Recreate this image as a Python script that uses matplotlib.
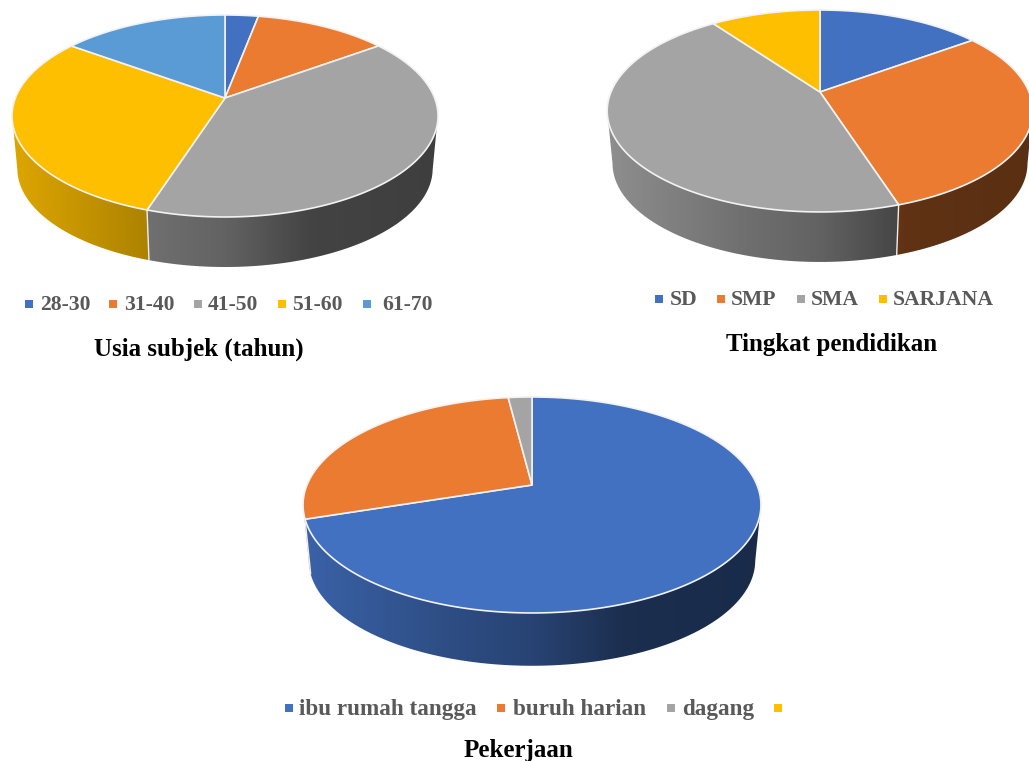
import numpy as np
import matplotlib
matplotlib.use('Agg')
import matplotlib.pyplot as plt
from matplotlib.colors import to_rgb
from matplotlib.patches import Polygon

# category labels and shares (%)
usia_labels = ['28-30', '31-40', '41-50', '51-60', '61-70']
usia_values = [3, 12, 40, 30, 15]

pendidikan_labels = ['SD', 'SMP', 'SMA', 'SARJANA']
pendidikan_values = [15, 30, 45, 10]

pekerjaan_labels = ['ibu rumah tangga', 'buruh harian', 'dagang', '']
pekerjaan_values = [70, 28, 2, 0]

colors = ['#4371C1', '#EB7B30', '#A4A4A4', '#FEBF00', '#5B9BD5']
legend_grey = '#595959'
serif = 'Liberation Serif'

# angular range of the wall that faces the viewer
FRONT_TOP = np.arccos(-0.28)
FRONT_BOTTOM = np.arccos(-0.19)


def project(theta, pie, scale=1.0, drop=0.0):
    # tilted disc seen in perspective, theta runs clockwise from 12 o'clock
    x, y = np.sin(theta), np.cos(theta)
    w = 1 + pie['k'] * y
    return (pie['cx'] + scale * pie['a'] * x / w,
            pie['cy'] + drop - scale * pie['b'] * y / w)


def shade(t):
    # side wall gets darker from left to right
    return np.interp(t, [0, 0.32, 0.5, 0.7, 1], [0.87, 0.68, 0.6, 0.41, 0.38])


def draw_wall(ax, pie, start, stop, bottom_start, bottom_stop, color):
    half = pie['a'] / np.sqrt(1 - pie['k'] ** 2)
    left = pie['cx'] - half

    top_x, top_y = project(np.linspace(start, stop, 150), pie)
    low_x, low_y = project(np.linspace(bottom_stop, bottom_start, 150), pie, pie['s'], pie['d'])
    outline = np.c_[np.r_[top_x, low_x], np.r_[top_y, low_y]]
    patch = Polygon(outline, closed=True, facecolor='none', edgecolor='none')
    ax.add_patch(patch)

    # horizontal gradient, clipped to the wall outline
    t = np.linspace(0, 1, 512)
    img = np.outer(shade(t), np.array(to_rgb(color)))[np.newaxis, :, :]
    im = ax.imshow(img, extent=(left, left + 2 * half, outline[:, 1].max() + 2, outline[:, 1].min() - 2),
                   aspect='auto', interpolation='bilinear', zorder=1)
    im.set_clip_path(patch)


def draw_pie(ax, values, pie):
    total = sum(values)
    edges = np.deg2rad(np.cumsum([0] + list(values)) / total * 360)
    lo, hi = FRONT_TOP, 2 * np.pi - FRONT_TOP

    # slices that have some wall showing
    front = [i for i in range(len(values))
             if edges[i + 1] > edges[i] and edges[i + 1] > lo and edges[i] < hi]
    for i in front:
        start, stop = max(edges[i], lo), min(edges[i + 1], hi)
        low_start, low_stop = start, stop
        if i == front[0] and edges[i] <= lo:
            low_start = FRONT_BOTTOM
        if i == front[-1]:
            low_stop = max(stop, 2 * np.pi - FRONT_BOTTOM)
        draw_wall(ax, pie, start, stop, low_start, low_stop, colors[i])

    # separators on the wall
    for e in edges[:-1]:
        if lo < e < hi:
            x0, y0 = project(e, pie)
            x1, y1 = project(e, pie, pie['s'], pie['d'])
            ax.plot([x0, x1], [y0, y1], color='#eeeeee', lw=1.0, solid_capstyle='butt', zorder=2)

    # top face
    for i in range(len(values)):
        if edges[i + 1] <= edges[i]:
            continue
        ts = np.linspace(edges[i], edges[i + 1], 200)
        xs, ys = project(ts, pie)
        ax.fill(np.r_[pie['cx'], xs], np.r_[pie['cy'], ys], facecolor=colors[i],
                edgecolor='#f2f2f2', lw=1.2, joinstyle='round', zorder=3)


def draw_legend(ax, labels, marks, texts, y, baseline, size):
    for i, (label, mx, tx) in enumerate(zip(labels, marks, texts)):
        ax.scatter([mx], [y], marker='s', s=30, color=colors[i], linewidths=0)
        if label:
            ax.text(tx, baseline, label, family=serif, weight='bold', size=size,
                    color=legend_grey, ha='left', va='baseline')


fig = plt.figure(figsize=(10.29, 7.61), dpi=100)
ax = fig.add_axes([0, 0, 1, 1])

draw_pie(ax, usia_values, dict(cx=225, cy=98, a=209.6, b=97.8, k=0.178, s=0.975, d=53))
draw_pie(ax, pendidikan_values, dict(cx=820, cy=92, a=209, b=97.4, k=0.188, s=0.975, d=53))
draw_pie(ax, pekerjaan_values, dict(cx=532, cy=485, a=225, b=104.3, k=0.185, s=0.975, d=56))

draw_legend(ax, usia_labels, [29, 113, 198, 282, 367], [40, 124, 208, 292, 382], 304, 310, 15.6)
draw_legend(ax, pendidikan_labels, [659, 721, 801, 883], [670, 731, 811, 893], 299, 305, 15.6)
draw_legend(ax, pekerjaan_labels, [289, 501, 671, 778], [299, 513, 682, 790], 708, 715, 16.7)

for title, x, y in [('Usia subjek (tahun)', 199, 356),
                    ('Tingkat pendidikan', 832, 351),
                    ('Pekerjaan', 518, 757)]:
    ax.text(x, y, title, family=serif, weight='bold', size=18, color='black',
            ha='center', va='baseline')

# imshow resets the limits, so fix them once everything is drawn
ax.set_xlim(0, 1029)
ax.set_ylim(761, 0)
ax.axis('off')

fig.savefig('out.png', dpi=100)
